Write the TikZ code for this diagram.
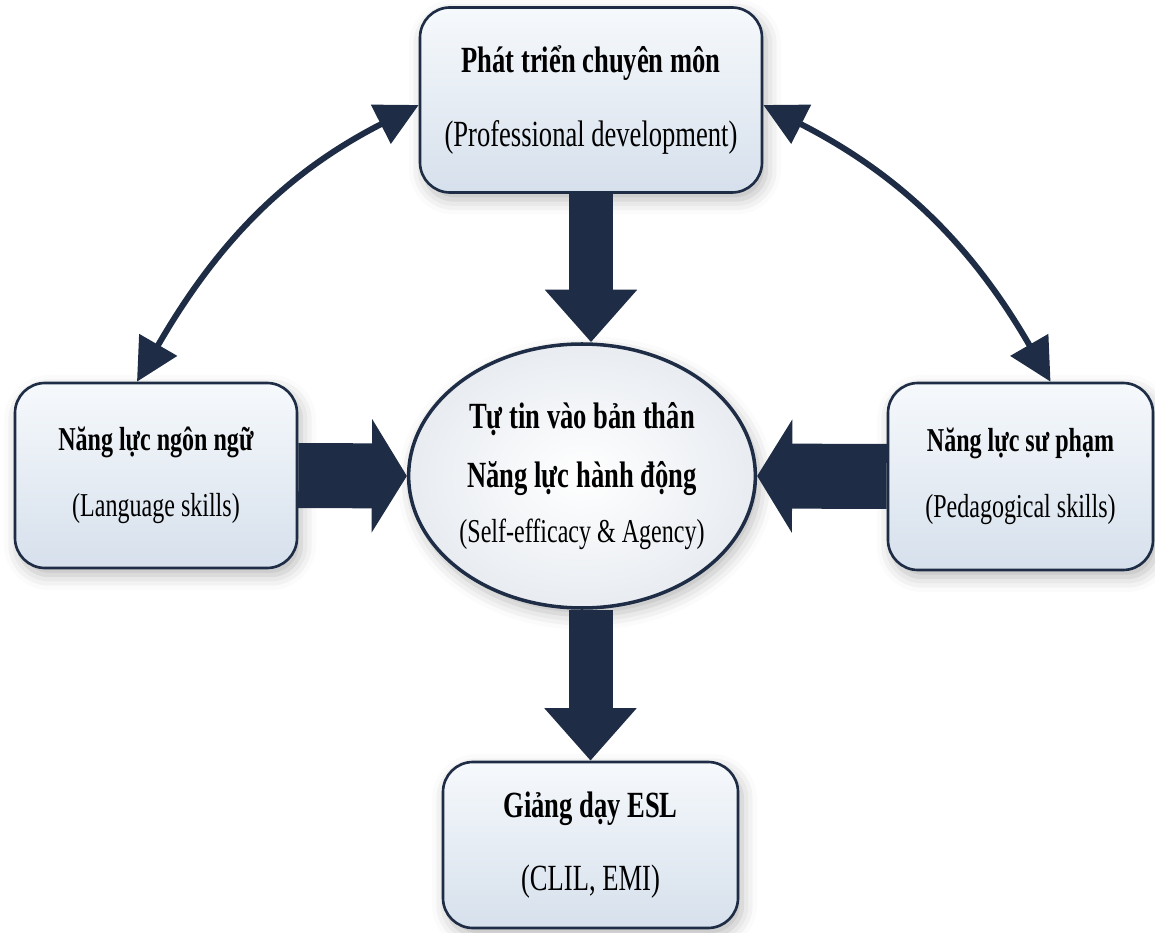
\documentclass[tikz,border=0pt]{standalone}
\usepackage{fontspec}
\setmainfont{Liberation Serif}[FakeStretch=0.72]
\usepackage{xcolor}
\usetikzlibrary{shapes.geometric,arrows.meta,shadows.blur}
\definecolor{navy}{HTML}{1E2D45}
\definecolor{boxtop}{HTML}{F6F9FC}
\definecolor{boxbot}{HTML}{D6E0EC}
\definecolor{ellout}{HTML}{E8ECF1}
\newcommand{\bigfont}{\fontsize{21}{25}\selectfont}
\newcommand{\sidefont}{\fontsize{19}{23}\selectfont}
\tikzstyle{box} = [rectangle, rounded corners=0.6cm, text centered, align=center, draw=navy, line width=1.5pt, top color=boxtop, bottom color=boxbot, blur shadow={shadow xshift=0.08cm, shadow yshift=-0.14cm, shadow blur radius=0.3cm, shadow opacity=28}]
\tikzstyle{core} = [ellipse, inner sep=0pt, text centered, align=center, draw=navy, line width=2pt, inner color=white, outer color=ellout, blur shadow={shadow xshift=0.08cm, shadow yshift=-0.14cm, shadow blur radius=0.3cm, shadow opacity=28}]
\tikzstyle{twoway} = [navy, line width=3.4pt, <->, >={Triangle[length=0.85cm,width=0.85cm]}]
\tikzstyle{bigdown} = [navy, line width=0.88cm, ->, >={Triangle[length=1.05cm,width=1.78cm]}]
\tikzstyle{bigside} = [navy, line width=1.3cm, ->, >={Triangle[length=0.7cm,width=2.24cm]}]

\begin{document}
\begin{tikzpicture}
\useasboundingbox (0,0) rectangle (23.1,18.64);

% Nodes
\node (PD) [box, minimum width=6.84cm, minimum height=3.7cm, font=\bigfont] at (11.82,16.64) {\textbf{Phát triển chuyên môn}\\[0.62cm](Professional development)}; % Top
\node (LS) [box, minimum width=5.64cm, minimum height=3.7cm, font=\sidefont] at (3.12,9.13) {\textbf{Năng lực ngôn ngữ}\\[0.5cm](Language skills)}; % Left
\node (PS) [box, minimum width=5.3cm, minimum height=3.74cm, font=\sidefont] at (20.41,9.11) {\textbf{Năng lực sư phạm}\\[0.5cm](Pedagogical skills)}; % Right
\node (ESL) [box, minimum width=5.9cm, minimum height=3.32cm, font=\bigfont] at (11.81,1.74) {\textbf{Giảng dạy ESL}\\[0.58cm](CLIL, EMI)}; % Bottom
\node (SE) [core, minimum width=6.72cm, minimum height=5.28cm, font=\bigfont] at (11.64,9.12) {\textbf{Tự tin vào bản thân}\\[0.3cm]\textbf{Năng lực hành động}\\[0.22cm]{\fontsize{19}{23}\selectfont(Self-efficacy \& Agency)}}; % Center

% Arrows
\draw [bigdown] (PD.south) -- (PD.south |- SE.north);
\draw [bigdown] (ESL.north |- SE.south) -- (ESL.north);
\draw [bigside] (LS.east) -- (SE.west);
\draw [bigside] (PS.west) -- (SE.east);
\draw [twoway] ([xshift=-0.38cm]LS.north) to[out=60,in=207] ([yshift=-0.1cm]PD.west);
\draw [twoway] ([yshift=-0.1cm]PD.east) to[out=-27,in=120] ([xshift=0.6cm]PS.north);

\end{tikzpicture}
\end{document}
